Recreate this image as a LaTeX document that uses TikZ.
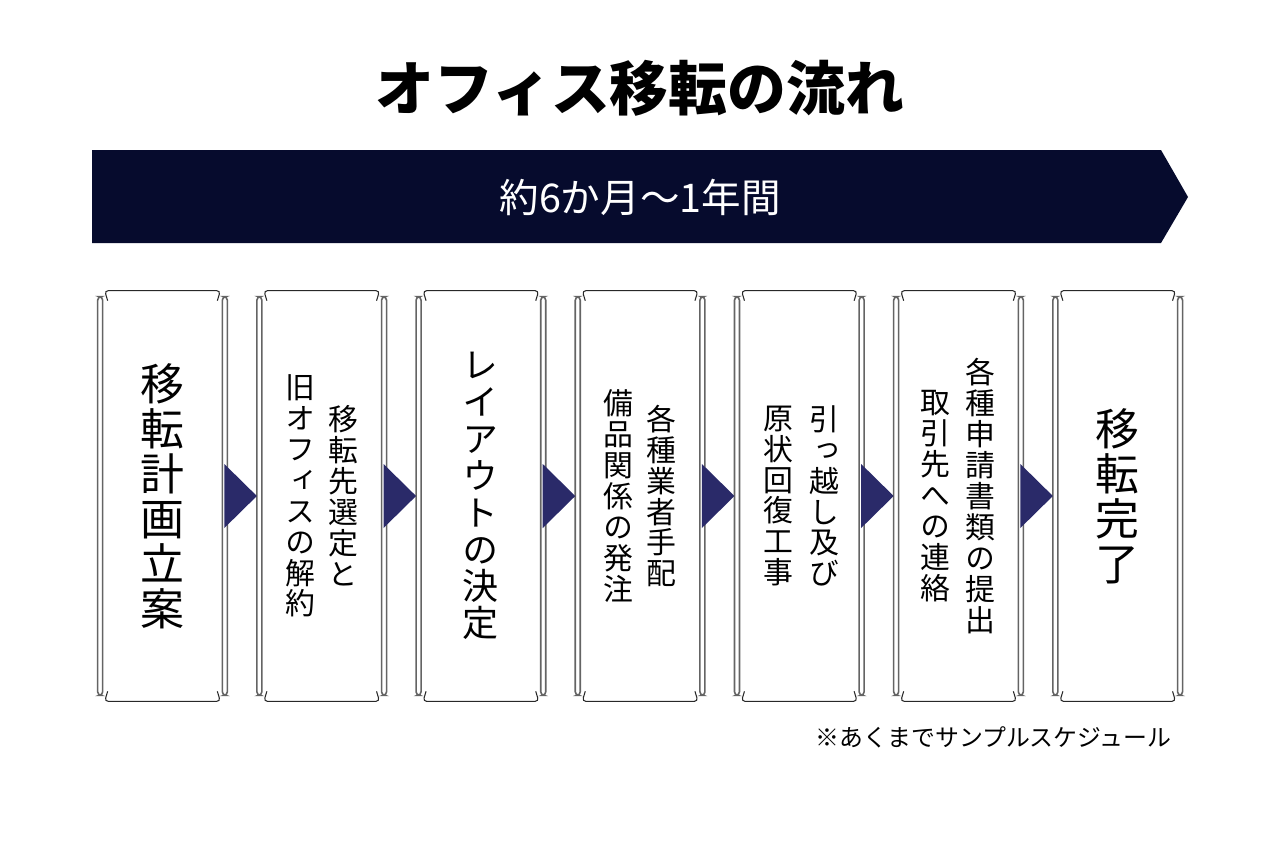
\documentclass[tikz,border=0pt]{standalone}
\usepackage{fontspec}
\setmainfont{Noto Sans CJK JP}
\newfontfamily\jpvert{Noto Sans CJK JP}[RawFeature=+vert]
\usetikzlibrary{calc}
\definecolor{BannerNavy}{RGB}{6,11,45}
\definecolor{StepIndigo}{RGB}{42,42,105}
\definecolor{FrameGray}{RGB}{100,100,100}
\definecolor{FrameDark}{RGB}{40,40,40}
\tikzset{
  stepbox/.style={minimum width=2.58cm, minimum height=8.2cm, inner sep=0pt},
  sidestrip/.style={draw=FrameGray, line width=0.9pt, rounded corners=2pt},
  edgeline/.style={draw=FrameDark, line width=0.6pt, rounded corners=2pt},
  steparrow/.style={fill=StepIndigo},
  titletext/.style={font=\bfseries\fontsize{33.5}{36}\selectfont, inner sep=0pt},
  bannertext/.style={font=\fontsize{22.5}{24}\selectfont, text=white, inner sep=0pt},
  vbig/.style={align=center, inner sep=0pt, font=\jpvert\fontsize{25}{25.6}\selectfont},
  vmid/.style={align=center, inner sep=0pt, font=\jpvert\fontsize{20.5}{21}\selectfont},
  vsmall/.style={align=center, inner sep=0pt, font=\jpvert\fontsize{17}{17.6}\selectfont},
  notetext/.style={font=\fontsize{13.6}{15}\selectfont, inner sep=0pt},
}

\begin{document}
\begin{tikzpicture}[x=0.02cm, y=-0.02cm]
  \fill[white] (0,0) rectangle (1280,853);
  \useasboundingbox (0,0) rectangle (1280,853);

  % title and period banner
  \node[titletext] (title) at (640,88) {オフィス移転の流れ};
  \fill[BannerNavy] (92,150) -- (1161,150) -- (1188,197) -- (1161,243) -- (92,243) -- cycle;
  \node[bannertext] (period) at (640,197) {約6か月〜1年間};

  % step boxes
  \foreach \i in {1,...,7}
    \node[stepbox] (b\i) at ({162.5+159.2*(\i-1)},496) {};
  \foreach \i in {1,...,7} {
    \draw[sidestrip] ($(b\i.north west)+(0,6)$) rectangle ($(b\i.south west)+(5,-6)$);
    \draw[sidestrip] ($(b\i.north east)+(-5,6)$) rectangle ($(b\i.south east)+(0,-6)$);
    \draw[edgeline] ($(b\i.north west)+(10,10)$) -- ($(b\i.north west)+(7,0)$)
      -- ($(b\i.north east)+(-7,0)$) -- ($(b\i.north east)+(-10,10)$);
    \draw[edgeline] ($(b\i.south west)+(10,-10)$) -- ($(b\i.south west)+(7,0)$)
      -- ($(b\i.south east)+(-7,0)$) -- ($(b\i.south east)+(-10,-10)$);
  }
  \foreach \i [evaluate=\i as \j using int(\i+1)] in {1,...,6}
    \fill[steparrow] ($(b\i.east)+(-3,-32)$) -- ($(b\i.east)+(-3,32)$) -- (b\j.west) -- cycle;

  % vertical labels
  \node[vbig] (t1) at (b1) {移\\転\\計\\画\\立\\案};
  \node[vsmall] (t2r) at ($(b2)+(22,0)$) {移\\転\\先\\選\\定\\と};
  \node[vsmall] (t2l) at ($(b2)+(-21,0)$) {旧\\オ\\フ\\ィ\\ス\\の\\解\\約};
  \node[vmid] (t3) at (b3) {レ\\イ\\ア\\ウ\\ト\\の\\決\\定};
  \node[vsmall] (t4r) at ($(b4)+(21,0)$) {各\\種\\業\\者\\手\\配};
  \node[vsmall] (t4l) at ($(b4)+(-22,0)$) {備\\品\\関\\係\\の\\発\\注};
  \node[vsmall] (t5r) at ($(b5)+(25,0)$) {引\\っ\\越\\し\\及\\び};
  \node[vsmall] (t5l) at ($(b5)+(-21,0)$) {原\\状\\回\\復\\工\\事};
  \node[vsmall] (t6r) at ($(b6)+(22,0)$) {各\\種\\申\\請\\書\\類\\の\\提\\出};
  \node[vsmall] (t6l) at ($(b6)+(-23,0)$) {取\\引\\先\\へ\\の\\連\\絡};
  \node[vbig] (t7) at (b7) {移\\転\\完\\了};

  \node[notetext, anchor=east] (note) at (1172,737) {※あくまでサンプルスケジュール};
\end{tikzpicture}
\end{document}
